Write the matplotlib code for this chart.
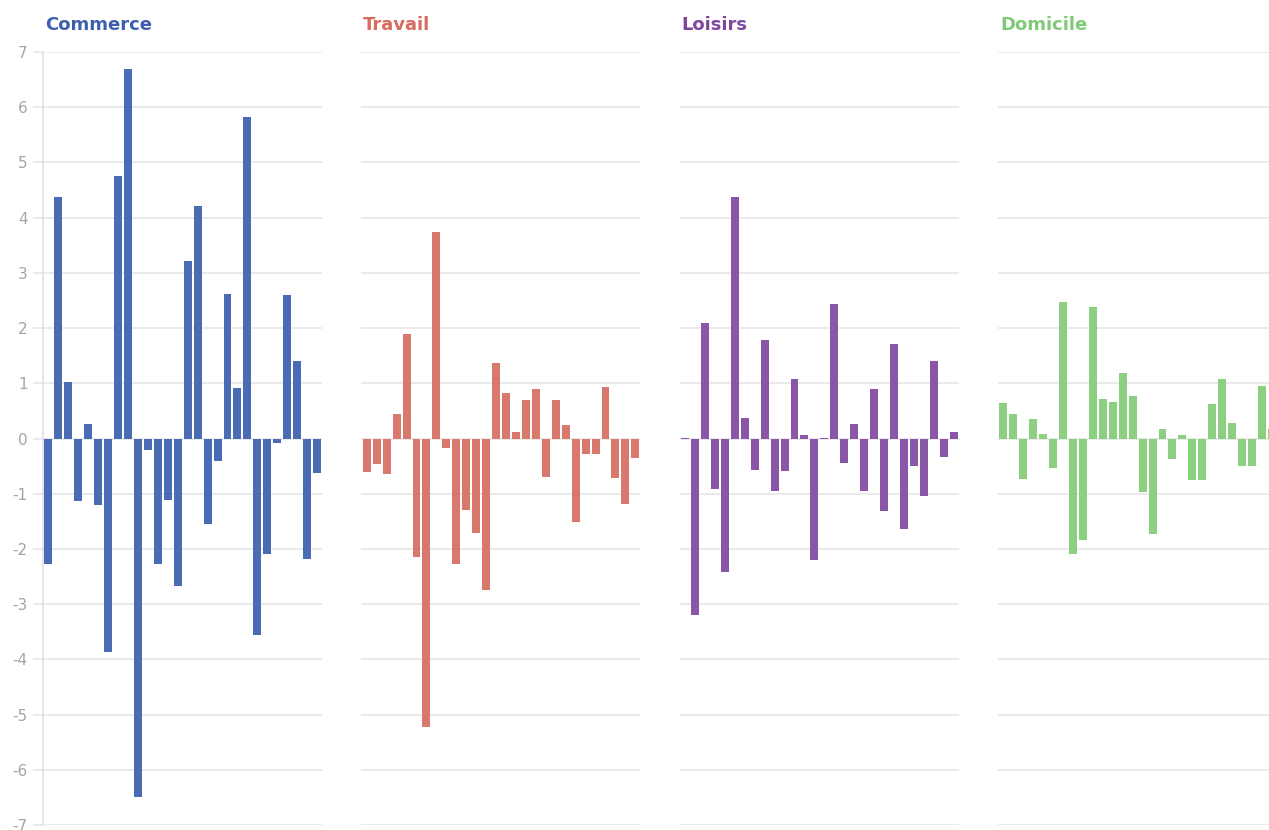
import matplotlib
matplotlib.use("Agg")
import matplotlib.pyplot as plt
import numpy as np

plt.rcParams["axes.unicode_minus"] = False
plt.rcParams["font.family"] = ["DejaVu Sans"]

# ---------------------------------------------------------------------------
# Data
# ---------------------------------------------------------------------------
categories = ["Commerce", "Travail", "Loisirs", "Domicile"]
colors = ["#4a6cb4", "#d9786c", "#8a57a8", "#8ccf80"]
title_colors = ["#3d5ead", "#d86b5e", "#7c489f", "#80c976"]

commerce = [-2.28, 4.37, 1.02, -1.14, 0.26, -1.20, -3.87, 4.75, 6.70, -6.50,
            -0.21, -2.28, -1.11, -2.68, 3.22, 4.21, -1.54, -0.41, 2.62, 0.91,
            5.82, -3.56, -2.10, -0.09, 2.60, 1.41, -2.18, -0.62]
travail = [-0.61, -0.46, -0.64, 0.45, 1.89, -2.15, -5.22, 3.74, -0.17, -2.28,
           -1.30, -1.71, -2.75, 1.36, 0.83, 0.11, 0.69, 0.90, -0.69, 0.69,
           0.25, -1.52, -0.28, -0.28, 0.93, -0.72, -1.19, -0.36]
loisirs = [0.01, -3.19, 2.10, -0.92, -2.42, 4.37, 0.38, -0.57, 1.78, -0.95,
           -0.58, 1.08, 0.06, -2.20, 0.01, 2.43, -0.44, 0.26, -0.95, 0.90,
           -1.31, 1.72, -1.64, -0.49, -1.04, 1.40, -0.33, 0.12]
domicile = [0.64, 0.44, -0.73, 0.36, 0.09, -0.53, 2.48, -2.09, -1.84, 2.39,
            0.72, 0.67, 1.18, 0.77, -0.96, -1.73, 0.17, -0.38, 0.07, -0.76,
            -0.76, 0.62, 1.07, 0.28, -0.50, -0.50, 0.95, 0.17]

series = [commerce, travail, loisirs, domicile]
y_ticks = list(range(-7, 8))

# ---------------------------------------------------------------------------
# Layout
# ---------------------------------------------------------------------------
W, H = 1269, 830
fig = plt.figure(figsize=(W / 100, H / 100), dpi=100)
fig.patch.set_facecolor("white")

ax_left0 = 43 / W
ax_step = 318.3 / W
ax_width = 279 / W
ax_bottom = 1 - 825 / H
ax_height = 773 / H

grid_color = "#e8e8e8"
label_color = "#a4a4a4"

for i, (name, values, color) in enumerate(zip(categories, series, colors)):
    left = ax_left0 + i * ax_step
    ax = fig.add_axes([left, ax_bottom, ax_width, ax_height])
    x = np.arange(len(values))
    ax.bar(x, values, width=0.8, color=color, zorder=3)

    ax.set_xlim(-0.55, len(values) - 0.5)
    ax.set_ylim(-7, 7)
    ax.set_yticks(y_ticks)
    ax.set_xticks([])
    ax.grid(axis="y", color=grid_color, linewidth=1.3, zorder=0)
    ax.set_axisbelow(True)

    for side in ["top", "right", "bottom"]:
        ax.spines[side].set_visible(False)

    if i == 0:
        ax.spines["left"].set_color("#e4dfdf")
        ax.spines["left"].set_linewidth(1.2)
        ax.tick_params(axis="y", length=7, width=1.3, color=grid_color,
                       labelcolor=label_color, labelsize=11, pad=4)
    else:
        ax.spines["left"].set_visible(False)
        ax.tick_params(axis="y", length=0, labelleft=False)

    fig.text(left + 2 / W, 1 - 25 / H, name, color=title_colors[i], fontsize=13,
             fontweight="bold", ha="left", va="center")

fig.savefig("out.png", dpi=100, facecolor="white")
